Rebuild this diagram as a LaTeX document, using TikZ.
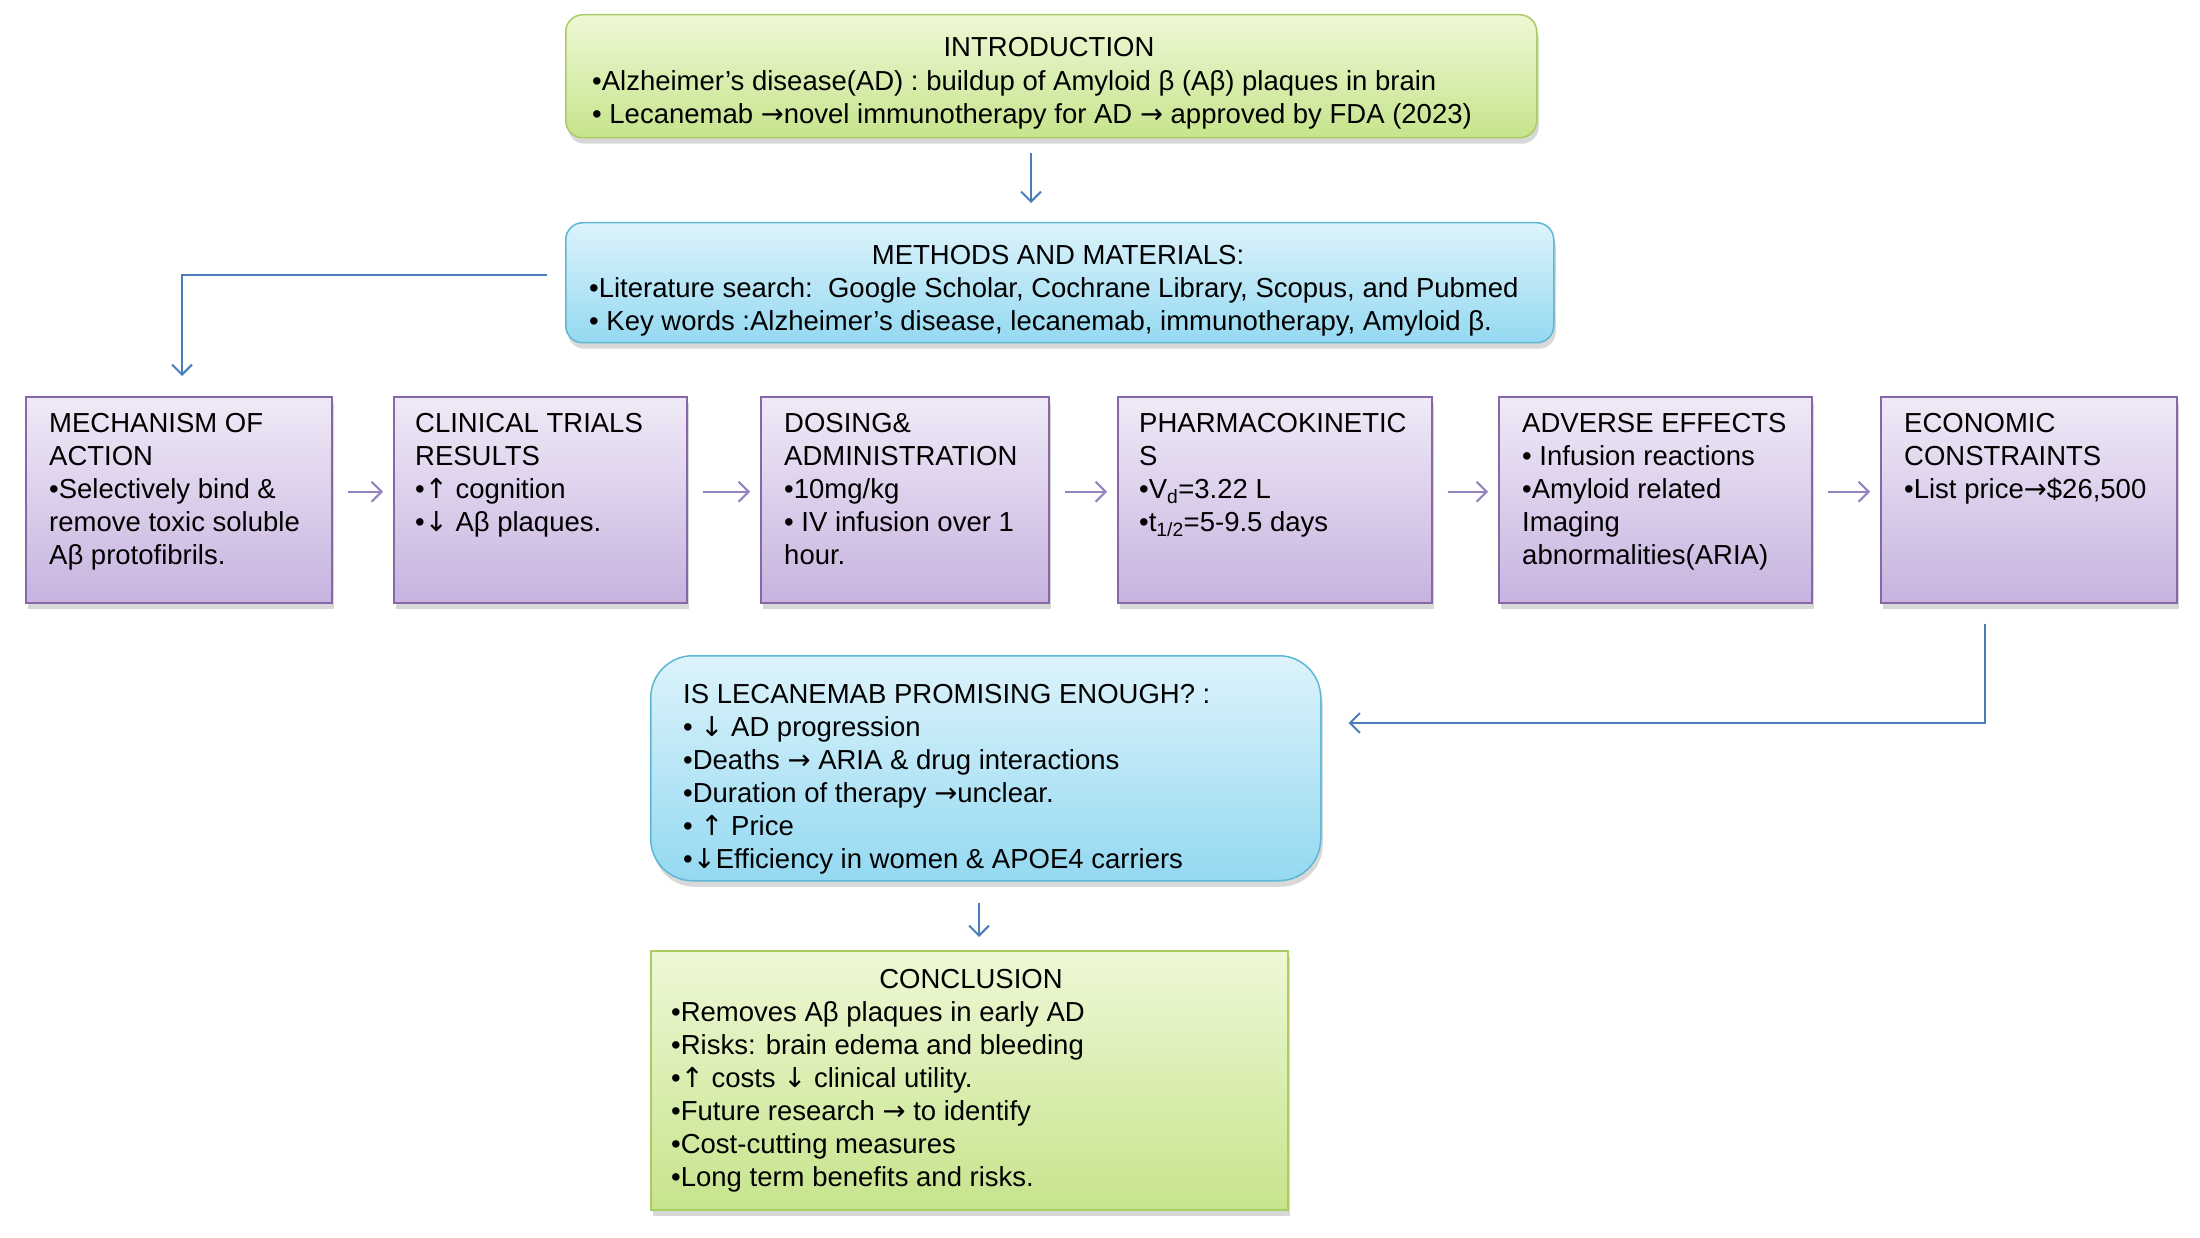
\documentclass[tikz,border=0pt]{standalone}
\usepackage{fontspec}
\setmainfont{Liberation Sans}
\newfontfamily\arrowfont{DejaVu Sans}
\newcommand{\myra}{{\arrowfont →}}
\newcommand{\myua}{{\arrowfont ↑}}
\newcommand{\myda}{{\arrowfont ↓}}
\usetikzlibrary{arrows.meta,shadows,calc}
\definecolor{grnB}{HTML}{A9CD62}
\definecolor{grnT}{HTML}{EEF8D6}
\definecolor{grnD}{HTML}{C6E48C}
\definecolor{bluB}{HTML}{5CB8D4}
\definecolor{bluT}{HTML}{DDF3FB}
\definecolor{bluD}{HTML}{94D9F1}
\definecolor{purB}{HTML}{8668A8}
\definecolor{purT}{HTML}{F0EAF7}
\definecolor{purD}{HTML}{C7B3DF}
\definecolor{lineblue}{HTML}{4A7EBB}
\definecolor{linepur}{HTML}{9484BE}
\begin{document}
\begin{tikzpicture}[x=1pt,y=-1pt,
  txt/.style={font=\fontsize{27.5}{33}\selectfont, inner sep=0pt, align=left, text=black},
  box/.style={draw, line width=1.5pt, drop shadow={opacity=0.3, shadow xshift=2pt, shadow yshift=-6pt}},
  greenbox/.style={box, draw=grnB, top color=grnT, bottom color=grnD},
  bluebox/.style={box, draw=bluB, top color=bluT, bottom color=bluD},
  purbox/.style={box, draw=purB, top color=purT, bottom color=purD, anchor=north west, minimum height=206pt},
  barr/.style={draw=lineblue, line width=2pt, -{Straight Barb[length=10pt,width=20pt]}},
  parr/.style={draw=linepur, line width=2pt, -{Straight Barb[length=10pt,width=20pt]}, shorten <=15pt, shorten >=10pt}
]
\fill[white] (0,0) rectangle (2200,1238);
\useasboundingbox (0,0) rectangle (2200,1238);

% Introduction
\node[greenbox, rounded corners=17pt, anchor=north west, minimum width=971pt, minimum height=123pt] (intro) at (565,14) {};
\node[txt, anchor=north] (introT) at (1049,37) {INTRODUCTION};
\node[txt, anchor=north west] (introB) at (592,70) {•Alzheimer’s disease(AD) : buildup of Amyloid β (Aβ) plaques in brain\\• Lecanemab \myra novel immunotherapy for AD \myra\ approved by FDA (2023)};

% Methods
\node[bluebox, rounded corners=17pt, anchor=north west, minimum width=988pt, minimum height=120pt] (methods) at (565,222) {};
\node[txt, anchor=north] (methT) at (1058,245) {METHODS AND MATERIALS:};
\node[txt, anchor=north west] (methB) at (589,277) {•Literature search:\ \ Google Scholar, Cochrane Library, Scopus, and Pubmed\\• Key words :Alzheimer’s disease, lecanemab, immunotherapy, Amyloid β.};

% Row of boxes
\node[purbox, minimum width=306pt] (mech) at (25,396) {};
\node[txt, anchor=north west] (mechT) at (49,413) {MECHANISM OF\\ACTION\\•Selectively bind \&\\remove toxic soluble\\Aβ protofibrils.};
\node[purbox, minimum width=293pt] (clin) at (393,396) {};
\node[txt, anchor=north west] (clinT) at (415,413) {CLINICAL TRIALS\\RESULTS\\•\myua\ cognition\\•\myda\ Aβ plaques.};
\node[purbox, minimum width=288pt] (dose) at (760,396) {};
\node[txt, anchor=north west] (doseT) at (784,413) {DOSING\&\\ADMINISTRATION\\•10mg/kg\\• IV infusion over 1\\hour.};
\node[purbox, minimum width=314pt] (pk) at (1117,396) {};
\node[txt, anchor=north west] (pkT) at (1139,413) {PHARMACOKINETIC\\S\\•V\textsubscript{d}=3.22 L\\•t\textsubscript{1/2}=5-9.5 days};
\node[purbox, minimum width=313pt] (adv) at (1498,396) {};
\node[txt, anchor=north west] (advT) at (1522,413) {ADVERSE EFFECTS\\• Infusion reactions\\•Amyloid related\\Imaging\\abnormalities(ARIA)};
\node[purbox, minimum width=296pt] (econ) at (1880,396) {};
\node[txt, anchor=north west] (econT) at (1904,413) {ECONOMIC\\CONSTRAINTS\\•List price\myra\$26,500};

% Question
\node[bluebox, rounded corners=42pt, anchor=north west, minimum width=670pt, minimum height=225pt] (quest) at (650,655) {};
\node[txt, anchor=north west] (questT) at (683,684) {IS LECANEMAB PROMISING ENOUGH? :\\• \myda\ AD progression\\•Deaths \myra\ ARIA \& drug interactions\\•Duration of therapy \myra unclear.\\• \myua\ Price\\•\myda Efficiency in women \& APOE4 carriers};

% Conclusion
\node[greenbox, anchor=north west, minimum width=637pt, minimum height=259pt] (concl) at (650,950) {};
\node[txt, anchor=north] (conclT) at (971,969) {CONCLUSION};
\node[txt, anchor=north west] (conclB) at (671,1001) {•Removes Aβ plaques in early AD\\•Risks: brain edema and bleeding\\•\myua\ costs \myda\ clinical utility.\\•Future research \myra\ to identify\\•Cost-cutting measures\\•Long term benefits and risks.};

% Connectors
\draw[barr, shorten <=15pt, shorten >=19pt] (intro.south -| 1031,0) -- (methods.north -| 1031,0);
\draw[barr, shorten <=18pt, shorten >=20pt] ([yshift=8pt]methods.west) -| (mech.north -| 182,0);
\draw[parr] ([yshift=8pt]mech.east) -- ([yshift=8pt]clin.west);
\draw[parr] ([yshift=8pt]clin.east) -- ([yshift=8pt]dose.west);
\draw[parr] ([yshift=8pt]dose.east) -- ([yshift=8pt]pk.west);
\draw[parr] ([yshift=8pt]pk.east) -- ([yshift=8pt]adv.west);
\draw[parr] ([yshift=8pt]adv.east) -- ([yshift=8pt]econ.west);
\draw[barr, shorten <=20pt, shorten >=27pt] (econ.south -| 1985,0) |- (quest.east |- 0,723);
\draw[barr, shorten <=21pt, shorten >=13pt] (quest.south -| 979,0) -- (concl.north -| 979,0);
\end{tikzpicture}
\end{document}
